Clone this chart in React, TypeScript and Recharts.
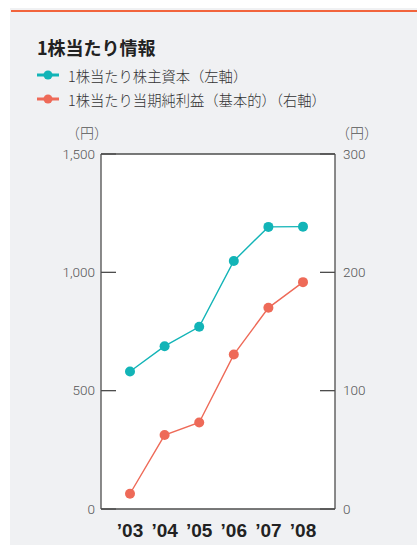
import { LineChart, Line, XAxis, YAxis, CartesianGrid, ReferenceLine } from "recharts";

const years = ["’03", "’04", "’05", "’06", "’07", "’08"];
const equityPerShare = [581, 688, 770, 1048, 1192, 1193];
const netIncomePerShare = [12.9, 62.5, 73.1, 130.5, 170, 191.7];
const leftTicks = [0, 500, 1000, 1500];
const rightTicks = [0, 100, 200, 300];

const TEAL = "#12b4b7";
const RED = "#ee6a58";
const FRAME = "#4d4d4d";
const JP = '"Noto Sans CJK JP", "Noto Sans", sans-serif';

// plot frame edges (chart margin + axis widths)
const LEFT_EDGE = 101;
const RIGHT_EDGE = 335;

const data = years.map((year, i) => ({
    year,
    equity: equityPerShare[i],
    income: netIncomePerShare[i],
}));

function LeftTick(props: any) {
    const { y, payload } = props;
    return (
        <g>
            <line x1={LEFT_EDGE} y1={y} x2={LEFT_EDGE + 15} y2={y} stroke={FRAME} strokeWidth={1.3} />
            <text x={LEFT_EDGE - 6} y={y} dy="0.35em" textAnchor="end" fill="#555" fontSize={13.5} fontFamily="Roboto, sans-serif" fontWeight={300}>
                {payload.value.toLocaleString("en-US")}
            </text>
        </g>
    );
}

function RightTick(props: any) {
    const { y, payload } = props;
    return (
        <g>
            <line x1={RIGHT_EDGE - 15} y1={y} x2={RIGHT_EDGE} y2={y} stroke={FRAME} strokeWidth={1.3} />
            <text x={RIGHT_EDGE + 8} y={y} dy="0.35em" textAnchor="start" fill="#555" fontSize={13.5} fontFamily="Roboto, sans-serif" fontWeight={300}>
                {payload.value}
            </text>
        </g>
    );
}

function LegendItem({ color, label, top }: { color: string; label: string; top: number }) {
    return (
        <div style={{ position: "absolute", left: 37, top: top - 10, height: 20, display: "flex", alignItems: "center" }}>
            <svg width={22} height={20} style={{ display: "block" }}>
                <line x1={0} y1={10} x2={22} y2={10} stroke={color} strokeWidth={3} />
                <circle cx={11} cy={10} r={4.5} fill={color} />
            </svg>
            <span style={{ marginLeft: 9, fontSize: 14.3, color: "#333", fontWeight: 300, fontFamily: JP, whiteSpace: "nowrap" }}>{label}</span>
        </div>
    );
}

export default function App() {
    return (
        <div style={{ position: "fixed", left: 0, top: 0, width: 417, height: 545, background: "#fff", overflow: "hidden" }}>
            <div style={{ position: "absolute", left: 10, top: 8, right: 0, bottom: 0, background: "#f0f1f3" }} />
            <div style={{ position: "absolute", left: 11, top: 10, right: 0, height: 2, background: "#f2643c" }} />
            <div style={{ position: "absolute", left: 37, top: 34, fontSize: 18, fontWeight: 700, color: "#222", fontFamily: JP, whiteSpace: "nowrap" }}>
                1株当たり情報
            </div>
            <LegendItem color={TEAL} label="1株当たり株主資本（左軸）" top={75} />
            <LegendItem color={RED} label="1株当たり当期純利益（基本的）（右軸）" top={99} />
            <div style={{ position: "absolute", left: 66, top: 122, fontSize: 14, color: "#555", fontWeight: 300, fontFamily: JP }}>（円）</div>
            <div style={{ position: "absolute", left: 336, top: 122, fontSize: 14, color: "#555", fontWeight: 300, fontFamily: JP }}>（円）</div>

            <div style={{ position: "absolute", left: 0, top: 120 }}>
                <LineChart width={417} height={425} data={data} margin={{ top: 34, right: 0, bottom: 0, left: 0 }}>
                    <CartesianGrid horizontal={false} vertical={false} fill="#fff" yAxisId="left" />
                    <XAxis
                        dataKey="year"
                        height={36}
                        padding={{ left: 29, right: 32 }}
                        axisLine={{ stroke: FRAME, strokeWidth: 1.3 }}
                        tickLine={false}
                        tickMargin={9}
                        tick={{ fill: "#222", fontSize: 19, fontWeight: 700, fontFamily: '"Liberation Sans", Arial, sans-serif' }}
                        interval={0}
                    />
                    <YAxis
                        yAxisId="left"
                        orientation="left"
                        width={LEFT_EDGE}
                        domain={[0, 1500]}
                        ticks={leftTicks}
                        axisLine={{ stroke: FRAME, strokeWidth: 1.3 }}
                        tickLine={false}
                        tick={<LeftTick />}
                    />
                    <YAxis
                        yAxisId="right"
                        orientation="right"
                        width={417 - RIGHT_EDGE}
                        domain={[0, 300]}
                        ticks={rightTicks}
                        axisLine={{ stroke: FRAME, strokeWidth: 1.3 }}
                        tickLine={false}
                        tick={<RightTick />}
                    />
                    <ReferenceLine yAxisId="left" y={1500} stroke={FRAME} strokeWidth={1.3} />
                    <Line
                        yAxisId="left"
                        dataKey="equity"
                        type="linear"
                        stroke={TEAL}
                        strokeWidth={1.4}
                        dot={{ r: 5, fill: TEAL, stroke: TEAL, strokeWidth: 0 }}
                        activeDot={false}
                        isAnimationActive={false}
                    />
                    <Line
                        yAxisId="right"
                        dataKey="income"
                        type="linear"
                        stroke={RED}
                        strokeWidth={1.4}
                        dot={{ r: 5, fill: RED, stroke: RED, strokeWidth: 0 }}
                        activeDot={false}
                        isAnimationActive={false}
                    />
                </LineChart>
            </div>
        </div>
    );
}
